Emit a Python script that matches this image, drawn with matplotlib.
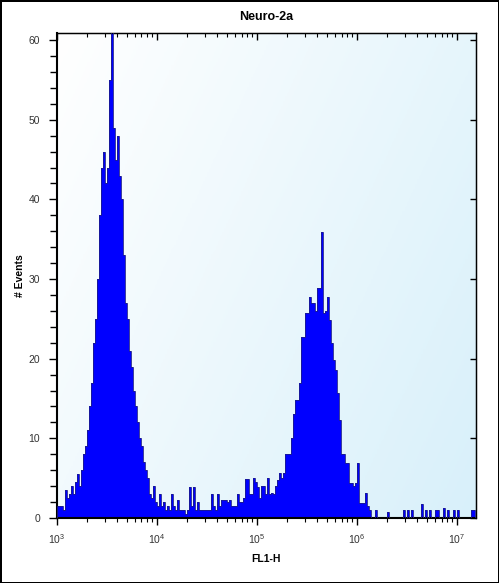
import numpy as np
import matplotlib
matplotlib.use("Agg")
import matplotlib.pyplot as plt
from matplotlib.ticker import FixedLocator, LogLocator, NullFormatter

plt.rcParams["font.family"] = ["Liberation Sans", "DejaVu Sans"]
plt.rcParams["mathtext.default"] = "regular"

# histogram: FL1-H channels, log bins of 0.02 decade starting at 10^3
title = "Neuro-2a"
x_label = "FL1-H"
y_label = "# Events"
log_start = 3.0
bin_step = 0.02
counts = [
    1.5, 1.5, 1.5, 1, 3.5, 2.5, 3, 4, 3, 4.5,
    5.5, 4, 6, 8, 9, 11, 14, 17, 22, 25,
    30, 38, 44, 46, 42, 44, 55, 61, 49, 45,
    48, 43, 40, 33, 27, 25, 21, 19, 16, 14,
    12, 10, 9, 7, 6, 5, 3, 2.5, 4, 2,
    1.5, 3, 1.5, 2, 1, 1.5, 1, 3, 1.5, 1,
    2.3, 1, 1, 1, 0.5, 1, 3.9, 1.5, 3.9, 1,
    2, 1, 1, 1, 1, 1, 1, 3, 1.5, 1,
    3, 1.5, 2.3, 2.3, 2.3, 2, 2.3, 1.5, 1.5, 1.5,
    3, 2, 2, 2.5, 4.9, 4.9, 3, 3, 5, 4.5,
    3.9, 2.5, 4, 4, 3, 5, 3, 3.2, 3, 4,
    4.8, 5.6, 5, 5.6, 8, 8, 8, 10, 13, 14.8,
    14.8, 17, 22.7, 22.7, 25.7, 25.7, 27.7, 27, 27, 26,
    28.9, 28.9, 35.9, 25.7, 26, 27.7, 24.8, 22, 19.8, 18.6,
    15.7, 12.3, 8, 8, 6.9, 6.9, 4.4, 4.4, 4, 4.4,
    6.9, 1.9, 1.9, 1.9, 3.2, 1.5, 1, 0, 0, 1,
    0, 0, 0, 0, 0, 0.8, 0, 0, 0, 0,
    0, 0, 0, 1, 0, 1, 0, 1, 0, 0,
    0, 0, 1.8, 0, 1, 0, 1, 0, 0, 1,
    1, 0, 0, 1.2, 0, 1, 0, 0, 1, 0,
    1, 0, 0, 0, 0, 0, 0, 1, 1,
]
x_ticks = [1e3, 1e4, 1e5, 1e6, 1e7]
x_tick_labels = ["10$^{3}$", "10$^{4}$", "10$^{5}$", "10$^{6}$", "10$^{7}$"]
y_ticks = [0, 10, 20, 30, 40, 50, 60]

edges = 10 ** (log_start + bin_step * np.arange(len(counts) + 1))

fig = plt.figure(figsize=(4.99, 5.83), dpi=100, edgecolor="black", linewidth=2)
ax = fig.add_axes([0.1142, 0.1115, 0.8397, 0.832])

# pale blue diagonal gradient background (white top-left -> blue bottom-right)
gx, gy = np.meshgrid(np.linspace(0, 1, 200), np.linspace(0, 1, 200))
grad = 0.65 * gx + 0.35 * gy
cmap = matplotlib.colors.LinearSegmentedColormap.from_list("bg", ["#ffffff", "#d8f0fa"])
ax.imshow(grad, aspect="auto", cmap=cmap, extent=[0, 1, 0, 1], origin="upper",
          transform=ax.transAxes, zorder=0)

ax.stairs(counts, edges, fill=True, color="#0000ff", zorder=2)
ax.stairs(counts, edges, color="#1c1c8a", linewidth=0.6, zorder=3)

ax.set_xscale("log")
ax.set_xlim(1e3, 10 ** 7.19)
ax.set_ylim(0, 60.9)

ax.xaxis.set_major_locator(FixedLocator(x_ticks))
ax.set_xticklabels(x_tick_labels)
ax.xaxis.set_minor_locator(LogLocator(base=10, subs=np.arange(2, 10)))
ax.xaxis.set_minor_formatter(NullFormatter())
ax.set_yticks(y_ticks)
ax.yaxis.set_minor_locator(FixedLocator(np.arange(0, 61, 2)))

ax.tick_params(axis="y", which="major", direction="out", length=6, width=1,
               labelsize=7.5, labelcolor="#333333", pad=6)
ax.tick_params(axis="y", which="minor", direction="out", length=5, width=1)
ax.tick_params(axis="x", which="major", direction="out", length=5, width=1,
               labelsize=7.5, labelcolor="#333333", pad=5)
ax.tick_params(axis="x", which="minor", direction="out", length=3, width=0.8)

# inward ticks on the top and right frame
top = ax.secondary_xaxis("top")
top.xaxis.set_major_locator(FixedLocator(x_ticks))
top.xaxis.set_minor_locator(LogLocator(base=10, subs=np.arange(2, 10)))
top.tick_params(which="major", direction="in", length=5, width=1, labeltop=False)
top.tick_params(which="minor", direction="in", length=3, width=0.8)
top.xaxis.set_major_formatter(NullFormatter())
top.xaxis.set_minor_formatter(NullFormatter())
right = ax.secondary_yaxis("right")
right.set_yticks(y_ticks)
right.tick_params(direction="in", length=4, width=1, labelright=False)
right.yaxis.set_major_formatter(NullFormatter())

for s in ax.spines.values():
    s.set_linewidth(1)
    s.set_color("black")
ax.spines["left"].set_linewidth(1.5)
ax.spines["bottom"].set_linewidth(1.5)

ax.set_title(title, fontsize=9, fontweight="bold", pad=9)
ax.set_xlabel(x_label, fontsize=7.5, fontweight="bold", labelpad=6)
ax.set_ylabel(y_label, fontsize=7.5, fontweight="bold", labelpad=3)

fig.savefig("out.png", dpi=100)
